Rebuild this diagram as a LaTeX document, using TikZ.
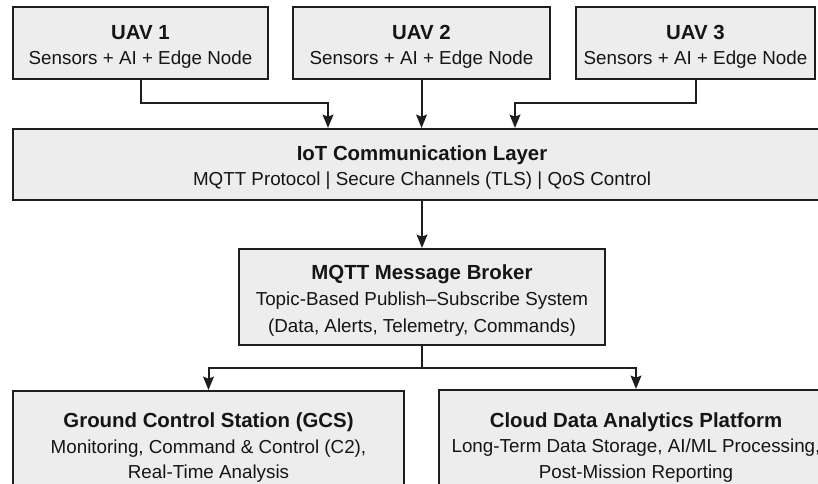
\documentclass[tikz,border=0pt]{standalone}
\usepackage{fontspec}
\setmainfont{Liberation Sans}
\usetikzlibrary{arrows.meta,calc}

\definecolor{boxfill}{HTML}{EDEDED}
\definecolor{boxline}{HTML}{1E1E1E}
\definecolor{inkgray}{HTML}{151515}

\newcommand{\boxtitle}[1]{{\fontsize{15.3}{19}\selectfont\bfseries\rule{0pt}{16pt}#1}}

\begin{document}
\begin{tikzpicture}[x=0.75pt,y=-0.75pt,
    block/.style={draw=boxline, fill=boxfill, line width=1.5pt, text=inkgray,
      align=center, inner sep=0pt, font=\fontsize{14.1}{19}\selectfont},
    link/.style={draw=boxline, line width=1.5pt},
    flow/.style={link, -{Stealth[length=10pt,width=8pt,inset=1.5pt]}}]
  % Frame of the picture; the wide boxes run past it
  \useasboundingbox (0,0) rectangle (818,483);
  \clip (0,0) rectangle (818,483);

  % UAV row
  \node[block, minimum width=191.25pt, minimum height=54pt] (uav1) at (140.5,43)
    {\boxtitle{UAV 1}\\Sensors + AI + Edge Node};
  \node[block, minimum width=192.75pt, minimum height=54pt] (uav2) at (421.5,43)
    {\boxtitle{UAV 2}\\Sensors + AI + Edge Node};
  \node[block, minimum width=179.25pt, minimum height=54pt] (uav3) at (695.5,43)
    {\boxtitle{UAV 3}\\Sensors + AI + Edge Node};

  % Communication layer and broker
  \node[block, minimum width=613.5pt, minimum height=53.25pt] (iot) at (422,164.5)
    {\boxtitle{IoT Communication Layer}\\MQTT Protocol | Secure Channels (TLS) | QoS Control};
  \node[block, minimum width=274.5pt, minimum height=72pt, font=\fontsize{14.1}{20}\selectfont] (broker) at (422,297)
    {\boxtitle{MQTT Message Broker}\\Topic-Based Publish–Subscribe System\\(Data, Alerts, Telemetry, Commands)};

  % Consumers
  \node[block, minimum width=293.25pt, minimum height=80.25pt] (gcs) at (208.5,444.5)
    {\boxtitle{Ground Control Station (GCS)}\\Monitoring, Command \& Control (C2),\\Real-Time Analysis};
  \node[block, minimum width=295.5pt, minimum height=81pt] (cloud) at (636,444)
    {\boxtitle{Cloud Data Analytics Platform}\\Long-Term Data Storage, AI/ML Processing,\\Post-Mission Reporting};

  % UAVs into the IoT layer
  \draw[flow] (uav1.south) |- ($(iot.north)+(-94,-25)$) -- ($(iot.north)+(-94,0)$);
  \draw[flow] (uav2.south) -- (uav2.south |- iot.north);
  \draw[flow] (uav3.south) |- ($(iot.north)+(93,-25)$) -- ($(iot.north)+(93,0)$);

  % Layer to broker, broker out to the two consumers
  \draw[flow] (iot.south) -- (broker.north);
  \coordinate (fork) at ($(broker.south)+(0,22)$);
  \draw[link] (broker.south) -- (fork);
  \draw[flow] (fork) -| (gcs.north);
  \draw[flow] (fork) -| (cloud.north);
\end{tikzpicture}
\end{document}
